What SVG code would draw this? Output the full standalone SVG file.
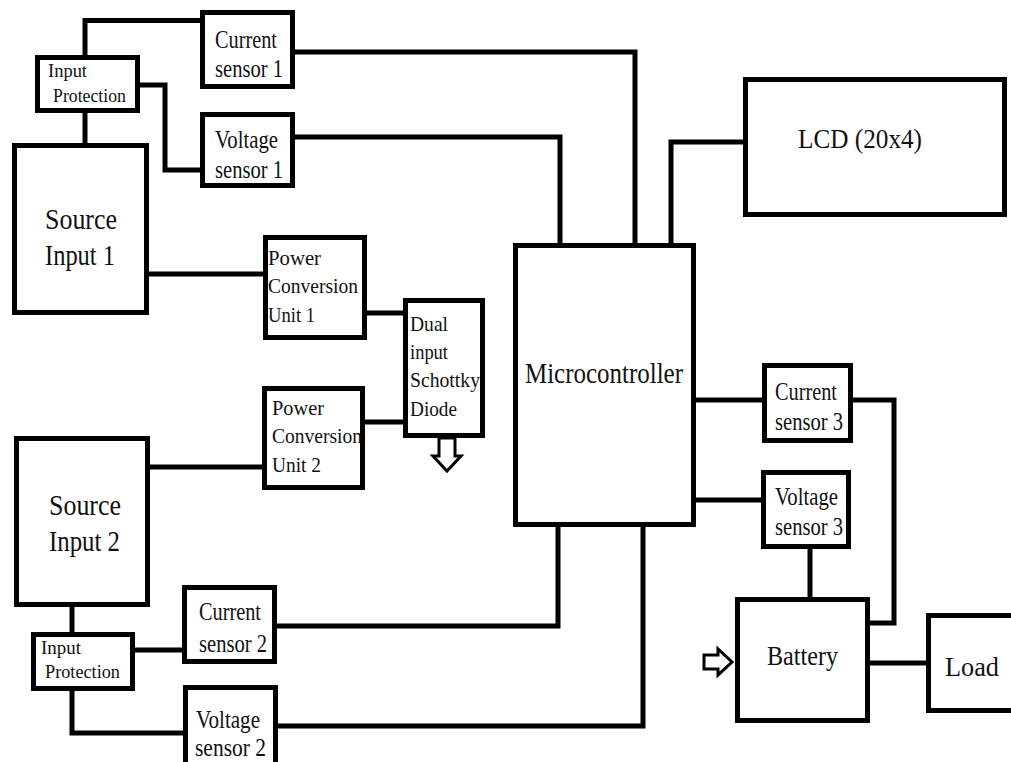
<svg xmlns="http://www.w3.org/2000/svg" width="1011" height="762" viewBox="0 0 1011 762">
<style>
.box{fill:#fff;stroke:#000;stroke-width:5}
.ln{fill:none;stroke:#000;stroke-width:5}
.ar{fill:#fff;stroke:#000;stroke-width:3;stroke-linejoin:miter}
text{font-family:"Liberation Serif","Times New Roman",serif;fill:#111}
.s{font-size:25px}
.ip{font-size:19px}
.src{font-size:29px}
.pcu{font-size:22px}
.big{font-size:27px}
.mc{font-size:29px}
</style>
<rect width="1011" height="762" fill="#fff"/>
<g id="connectors">
<path class="ln" d="M85,57.5 V20.5 H202.5"/>
<path class="ln" d="M137.5,85 H165 V170 H202.5"/>
<path class="ln" d="M85,110.5 V145.5"/>
<path class="ln" d="M292.5,52 H635 V245.5"/>
<path class="ln" d="M292.5,137 H560 V245.5"/>
<path class="ln" d="M671,245.5 V142 H745.5"/>
<path class="ln" d="M146.5,274 H265.5"/>
<path class="ln" d="M364.5,313 H405.5"/>
<path class="ln" d="M362.5,422 H405.5"/>
<path class="ln" d="M147.5,467 H264.5"/>
<path class="ln" d="M72,604.5 V634.5"/>
<path class="ln" d="M132.5,650 H184.5"/>
<path class="ln" d="M72,688.5 V733 H185.5"/>
<path class="ln" d="M274.5,626 H558 V524.5"/>
<path class="ln" d="M275.5,726 H643 V524.5"/>
<path class="ln" d="M693.5,400 H764.5"/>
<path class="ln" d="M693.5,500 H763.5"/>
<path class="ln" d="M850.5,400 H894 V623 H867.5"/>
<path class="ln" d="M810,546.5 V599.5"/>
<path class="ln" d="M867.5,663 H928.5"/>
<polygon class="ar" points="439,438 455,438 455,456 461,456 447,471 433,456 439,456"/>
<polygon class="ar" points="704,655 718,655 718,649 732,662 718,675 718,669 704,669"/>
</g>
<g id="cs1"><rect class="box" x="202.5" y="12.5" width="90" height="74"/>
<text class="s" x="215" y="48" textLength="62" lengthAdjust="spacingAndGlyphs">Current</text>
<text class="s" x="215" y="77" textLength="68" lengthAdjust="spacingAndGlyphs">sensor 1</text></g>
<g id="ip1"><rect class="box" x="37.5" y="57.5" width="100" height="53"/>
<text class="ip" x="48" y="77" textLength="39" lengthAdjust="spacingAndGlyphs">Input</text>
<text class="ip" x="53" y="102" textLength="73" lengthAdjust="spacingAndGlyphs">Protection</text></g>
<g id="vs1"><rect class="box" x="202.5" y="114.5" width="90" height="71"/>
<text class="s" x="215" y="148" textLength="63" lengthAdjust="spacingAndGlyphs">Voltage</text>
<text class="s" x="215" y="178" textLength="68" lengthAdjust="spacingAndGlyphs">sensor 1</text></g>
<g id="src1"><rect class="box" x="14.5" y="145.5" width="132" height="167"/>
<text class="src" x="45" y="229" textLength="72" lengthAdjust="spacingAndGlyphs">Source</text>
<text class="src" x="45" y="265" textLength="70" lengthAdjust="spacingAndGlyphs">Input 1</text></g>
<g id="pcu1"><rect class="box" x="265.5" y="237.5" width="99" height="100"/>
<text class="pcu" x="268" y="265" textLength="53" lengthAdjust="spacingAndGlyphs">Power</text>
<text class="pcu" x="268" y="293" textLength="90" lengthAdjust="spacingAndGlyphs">Conversion</text>
<text class="pcu" x="268" y="322" textLength="47" lengthAdjust="spacingAndGlyphs">Unit 1</text></g>
<g id="dual"><rect class="box" x="405.5" y="300.5" width="77" height="135"/>
<text class="pcu" x="410" y="331" textLength="38" lengthAdjust="spacingAndGlyphs">Dual</text>
<text class="pcu" x="410" y="359" textLength="38" lengthAdjust="spacingAndGlyphs">input</text>
<text class="pcu" x="410" y="387" textLength="70" lengthAdjust="spacingAndGlyphs">Schottky</text>
<text class="pcu" x="410" y="416" textLength="47" lengthAdjust="spacingAndGlyphs">Diode</text></g>
<g id="pcu2"><rect class="box" x="264.5" y="388.5" width="98" height="99"/>
<text class="pcu" x="272" y="415" textLength="52" lengthAdjust="spacingAndGlyphs">Power</text>
<text class="pcu" x="272" y="443" textLength="90" lengthAdjust="spacingAndGlyphs">Conversion</text>
<text class="pcu" x="272" y="472" textLength="49" lengthAdjust="spacingAndGlyphs">Unit 2</text></g>
<g id="src2"><rect class="box" x="16.5" y="438.5" width="131" height="166"/>
<text class="src" x="49" y="515" textLength="72" lengthAdjust="spacingAndGlyphs">Source</text>
<text class="src" x="49" y="551" textLength="71" lengthAdjust="spacingAndGlyphs">Input 2</text></g>
<g id="ip2"><rect class="box" x="33.5" y="634.5" width="99" height="54"/>
<text class="ip" x="41" y="654" textLength="40" lengthAdjust="spacingAndGlyphs">Input</text>
<text class="ip" x="45" y="678" textLength="75" lengthAdjust="spacingAndGlyphs">Protection</text></g>
<g id="cs2"><rect class="box" x="184.5" y="587.5" width="90" height="74"/>
<text class="s" x="199" y="620" textLength="62" lengthAdjust="spacingAndGlyphs">Current</text>
<text class="s" x="199" y="652" textLength="68" lengthAdjust="spacingAndGlyphs">sensor 2</text></g>
<g id="vs2"><rect class="box" x="185.5" y="687.5" width="90" height="85"/>
<text class="s" x="196" y="728" textLength="64" lengthAdjust="spacingAndGlyphs">Voltage</text>
<text class="s" x="195" y="756" textLength="71" lengthAdjust="spacingAndGlyphs">sensor 2</text></g>
<g id="mcu"><rect class="box" x="515.5" y="245.5" width="178" height="279"/>
<text class="mc" x="525" y="383" textLength="158" lengthAdjust="spacingAndGlyphs">Microcontroller</text></g>
<g id="lcd"><rect class="box" x="745.5" y="79.5" width="259" height="135"/>
<text class="big" x="798" y="148" textLength="124" lengthAdjust="spacingAndGlyphs">LCD (20x4)</text></g>
<g id="cs3"><rect class="box" x="764.5" y="365.5" width="86" height="75"/>
<text class="s" x="775" y="400" textLength="62" lengthAdjust="spacingAndGlyphs">Current</text>
<text class="s" x="775" y="430" textLength="68" lengthAdjust="spacingAndGlyphs">sensor 3</text></g>
<g id="vs3"><rect class="box" x="763.5" y="472.5" width="85" height="74"/>
<text class="s" x="775" y="505" textLength="63" lengthAdjust="spacingAndGlyphs">Voltage</text>
<text class="s" x="775" y="535" textLength="68" lengthAdjust="spacingAndGlyphs">sensor 3</text></g>
<g id="battery"><rect class="box" x="737.5" y="599.5" width="130" height="121"/>
<text class="big" x="767" y="665" textLength="71" lengthAdjust="spacingAndGlyphs">Battery</text></g>
<g id="load"><rect class="box" x="928.5" y="615.5" width="90" height="95"/>
<text class="big" x="945" y="676" textLength="54" lengthAdjust="spacingAndGlyphs">Load</text></g>
</svg>
